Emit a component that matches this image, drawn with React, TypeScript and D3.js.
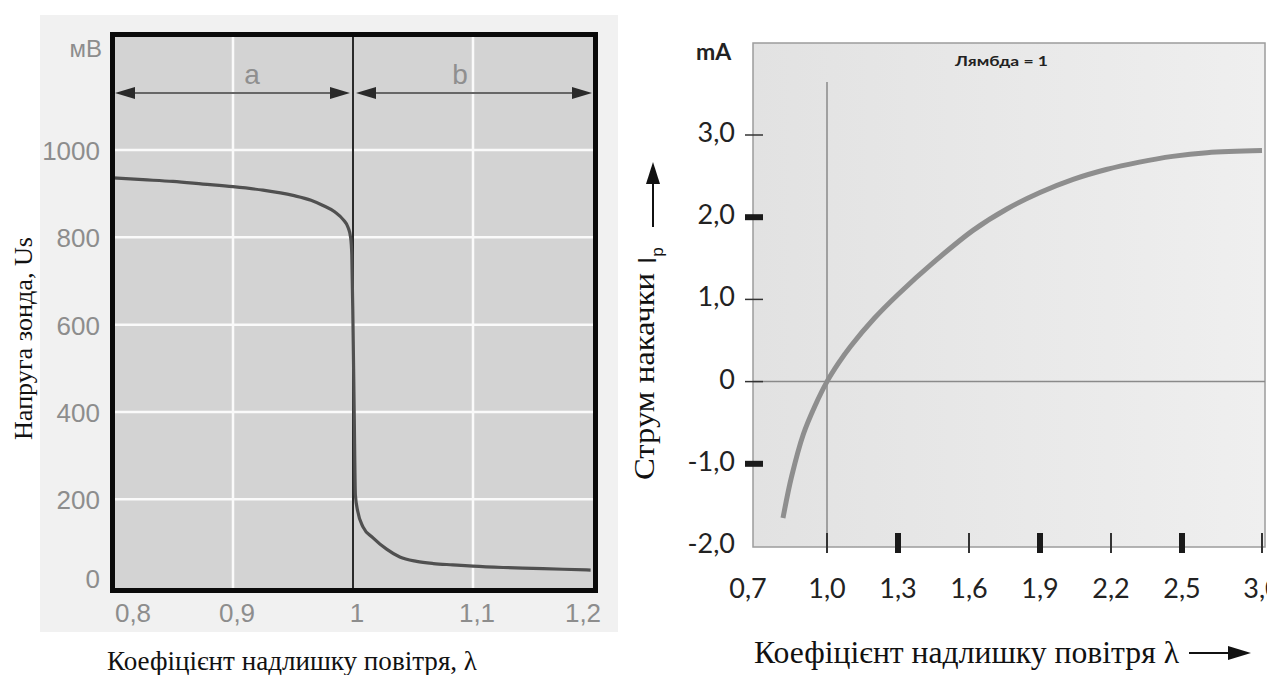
import React from 'react';
import * as d3 from 'd3';

// ---------- Left chart data (probe voltage vs lambda) ----------
const leftLambda = [0.8, 0.825, 0.85, 0.875, 0.9, 0.925, 0.95, 0.965, 0.975, 0.985, 0.992, 0.996, 0.998, 0.999, 1.0, 1.001, 1.002, 1.004, 1.0083, 1.0167, 1.028, 1.039, 1.053, 1.067, 1.083, 1.1, 1.125, 1.15, 1.175, 1.198];
const leftVoltage = [936, 932, 928, 922, 916, 908, 896, 885, 873, 858, 840, 822, 800, 760, 600, 400, 210, 172, 137, 112, 86, 68, 58, 53, 50, 47, 44, 42, 40, 38];
const leftXTicks = [0.8, 0.9, 1.0, 1.1, 1.2];
const leftXTickLabels = ['0,8', '0,9', '1', '1,1', '1,2'];
const leftYTicks = [0, 200, 400, 600, 800, 1000];
const leftGridX = [0.9, 1.1];
const leftGridY = [200, 400, 600, 800, 1000];

// ---------- Right chart data (pump current vs lambda) ----------
const rightLambda = [0.814, 0.85, 0.9, 0.95, 1.0, 1.05, 1.1, 1.2, 1.3, 1.45, 1.617, 1.76, 1.9, 2.04, 2.18, 2.32, 2.46, 2.656, 3.0];
const rightCurrent = [-1.66, -1.16, -0.64, -0.29, 0.0, 0.23, 0.43, 0.77, 1.06, 1.45, 1.84, 2.1, 2.3, 2.46, 2.58, 2.67, 2.74, 2.785, 2.81];
const rightXTicks = [0.7, 1.0, 1.3, 1.6, 1.9, 2.2, 2.5, 3.0];
const rightXTickLabels = ['0,7', '1,0', '1,3', '1,6', '1,9', '2,2', '2,5', '3,0'];
const rightXThinTicks = [1.0, 1.6, 2.2, 3.0];
const rightXThickTicks = [1.3, 1.9, 2.5];
const rightYTicks = [-2, -1, 0, 1, 2, 3];
const rightYTickLabels = ['-2,0', '-1,0', '0', '1,0', '2,0', '3,0'];
const rightYThinTicks = [3, 1, 0];
const rightYThickTicks = [2, -1];

const serif = '"Liberation Serif", "Times New Roman", serif';
const sans = '"Liberation Sans", Arial, sans-serif';
const geo = 'Lato, "Noto Sans", sans-serif';

export default function App() {
  // Left scales
  const xL = d3.scaleLinear().domain([0.8, 1.2]).range([113, 593]);
  const yL = d3.scaleLinear().domain([0, 1000]).range([586.7, 150]);
  const leftPts = leftLambda.map((l, i) => [l, leftVoltage[i]] as [number, number]);
  const leftLine = d3.line<[number, number]>().x(d => xL(d[0])).y(d => yL(d[1])).curve(d3.curveMonotoneX);

  // Right scales
  const xR = d3.scaleLinear().domain([0.7, 2.5, 3.0]).range([756, 1182, 1262]);
  const yR = d3.scaleLinear().domain([-2, 3]).range([546, 135]);
  const rightPts = rightLambda.map((l, i) => [l, rightCurrent[i]] as [number, number]);
  const rightLine = d3.line<[number, number]>().x(d => xR(d[0])).y(d => yR(d[1])).curve(d3.curveCatmullRom.alpha(0.5));

  const plotL = 753, plotR = 1265, plotT = 43, plotB = 547;
  const arrowY = 93;

  return (
    <svg width={1267} height={675} style={{ position: 'absolute', left: 0, top: 0, background: '#fff' }}>
      <defs>
        <linearGradient id="rbg" x1="0" x2="1" y1="0" y2="0">
          <stop offset="0" stopColor="#e2e2e2" />
          <stop offset="1" stopColor="#efefef" />
        </linearGradient>
      </defs>

      {/* ===== LEFT CHART ===== */}
      <rect x={40} y={15} width={578} height={617} fill="#f1f1f1" />
      <rect x={112.5} y={34.5} width={483} height={556} fill="#d3d3d3" />
      {leftGridX.map(v => (
        <line key={'gx' + v} x1={xL(v)} x2={xL(v)} y1={36} y2={588} stroke="#fafafa" strokeWidth={2.5} />
      ))}
      {leftGridY.map(v => (
        <line key={'gy' + v} x1={114} x2={594} y1={yL(v)} y2={yL(v)} stroke="#fafafa" strokeWidth={2.5} />
      ))}
      {/* lambda = 1 line */}
      <line x1={xL(1.0)} x2={xL(1.0)} y1={36} y2={588} stroke="#2a2a2a" strokeWidth={2} />
      {/* a / b arrows */}
      <line x1={125} x2={340} y1={arrowY} y2={arrowY} stroke="#666" strokeWidth={2} />
      <line x1={367} x2={582} y1={arrowY} y2={arrowY} stroke="#666" strokeWidth={2} />
      <path d={`M115,${arrowY} L135,${arrowY - 6} L135,${arrowY + 6} Z`} fill="#2a2a2a" />
      <path d={`M350,${arrowY} L330,${arrowY - 6} L330,${arrowY + 6} Z`} fill="#2a2a2a" />
      <path d={`M356,${arrowY} L376,${arrowY - 6} L376,${arrowY + 6} Z`} fill="#2a2a2a" />
      <path d={`M592,${arrowY} L572,${arrowY - 6} L572,${arrowY + 6} Z`} fill="#2a2a2a" />
      <text x={252} y={84} textAnchor="middle" fontFamily={sans} fontSize={28} fill="#8f8f8f">a</text>
      <text x={460} y={84} textAnchor="middle" fontFamily={sans} fontSize={28} fill="#8f8f8f">b</text>
      {/* curve */}
      <path d={leftLine(leftPts) || ''} fill="none" stroke="#505050" strokeWidth={3.2} />
      {/* frame */}
      <rect x={112.5} y={34.5} width={483} height={556} fill="none" stroke="#0a0a0a" strokeWidth={5} />
      {/* y tick labels */}
      {leftYTicks.map(v => (
        <text key={'ly' + v} x={100} y={yL(v) + (v === 0 ? 1 : 10)} textAnchor="end" fontFamily={sans} fontSize={26} fill="#8d8d8d">{v}</text>
      ))}
      <text x={102} y={57} textAnchor="end" fontFamily={sans} fontSize={24} fill="#8d8d8d">мВ</text>
      {/* x tick labels */}
      {leftXTicks.map((v, i) => (
        <text key={'lx' + v} x={xL(v) + (i === 0 ? 20 : i === leftXTicks.length - 1 ? -10 : 4)} y={622} textAnchor="middle" fontFamily={sans} fontSize={26} fill="#8d8d8d">{leftXTickLabels[i]}</text>
      ))}
      {/* axis titles */}
      <text x={107} y={670} fontFamily={serif} fontSize={27} fill="#111" textLength={370} lengthAdjust="spacingAndGlyphs">Коефіцієнт надлишку повітря, λ</text>
      <text transform="translate(32,440) rotate(-90)" fontFamily={serif} fontSize={26} fill="#111" textLength={203} lengthAdjust="spacingAndGlyphs">Напруга зонда, Us</text>

      {/* ===== RIGHT CHART ===== */}
      <rect x={plotL} y={plotT} width={plotR - plotL} height={plotB - plotT} fill="url(#rbg)" stroke="#9c9c9c" strokeWidth={1.5} />
      {/* zero line */}
      <line x1={plotL} x2={plotR} y1={yR(0)} y2={yR(0)} stroke="#8a8a8a" strokeWidth={1.5} />
      {/* lambda = 1 line */}
      <line x1={xR(1.0)} x2={xR(1.0)} y1={82} y2={plotB} stroke="#8a8a8a" strokeWidth={1.5} />
      <text x={955} y={66} fontFamily={geo} fontSize={13} fontWeight={700} fill="#222" textLength={93} lengthAdjust="spacingAndGlyphs">Лямбда = 1</text>
      {/* curve */}
      <path d={rightLine(rightPts) || ''} fill="none" stroke="#8e8e8e" strokeWidth={5} />
      {/* y ticks */}
      {rightYThinTicks.map(v => (
        <line key={'ryt' + v} x1={745} x2={763} y1={yR(v)} y2={yR(v)} stroke="#333" strokeWidth={1.5} />
      ))}
      {rightYThickTicks.map(v => (
        <rect key={'ryT' + v} x={745} y={yR(v) - 3} width={18} height={6} fill="#1a1a1a" />
      ))}
      {/* x ticks */}
      {rightXThinTicks.map(v => (
        <line key={'rxt' + v} x1={xR(v)} x2={xR(v)} y1={533} y2={553} stroke="#333" strokeWidth={2} />
      ))}
      {rightXThickTicks.map(v => (
        <rect key={'rxT' + v} x={xR(v) - 3} y={533} width={6} height={20} fill="#1a1a1a" />
      ))}
      {/* tick labels */}
      {rightYTicks.map((v, i) => (
        <text key={'ryl' + v} x={735} y={yR(v) + 7} textAnchor="end" fontFamily={geo} fontSize={27} fill="#222">{rightYTickLabels[i]}</text>
      ))}
      {rightXTicks.map((v, i) => (
        <text key={'rxl' + v} x={xR(v) + (i === 0 ? -8 : 0)} y={598} textAnchor="middle" fontFamily={geo} fontSize={27} fill="#222">{rightXTickLabels[i]}</text>
      ))}
      <text x={696} y={60} fontFamily={geo} fontSize={23} fontWeight={700} fill="#222">mA</text>
      {/* x title */}
      <text x={754} y={663} fontFamily={serif} fontSize={31} fill="#111" textLength={425} lengthAdjust="spacingAndGlyphs">Коефіцієнт надлишку повітря λ</text>
      <line x1={1189} x2={1232} y1={653} y2={653} stroke="#111" strokeWidth={2} />
      <path d="M1251,653 L1228,646 L1228,660 Z" fill="#111" />
      {/* y title */}
      <text transform="translate(654,480) rotate(-90)" fontFamily={serif} fontSize={30} fill="#111" textLength={207} lengthAdjust="spacingAndGlyphs">Струм накачки</text>
      <text transform="translate(656,264) rotate(-90)" fontFamily={sans} fontSize={26} fill="#111">I<tspan fontSize={17} dy={7}>p</tspan></text>
      <line x1={653} x2={653} y1={227} y2={178} stroke="#111" strokeWidth={2} />
      <path d="M653,162 L646,184 L660,184 Z" fill="#111" />
    </svg>
  );
}
